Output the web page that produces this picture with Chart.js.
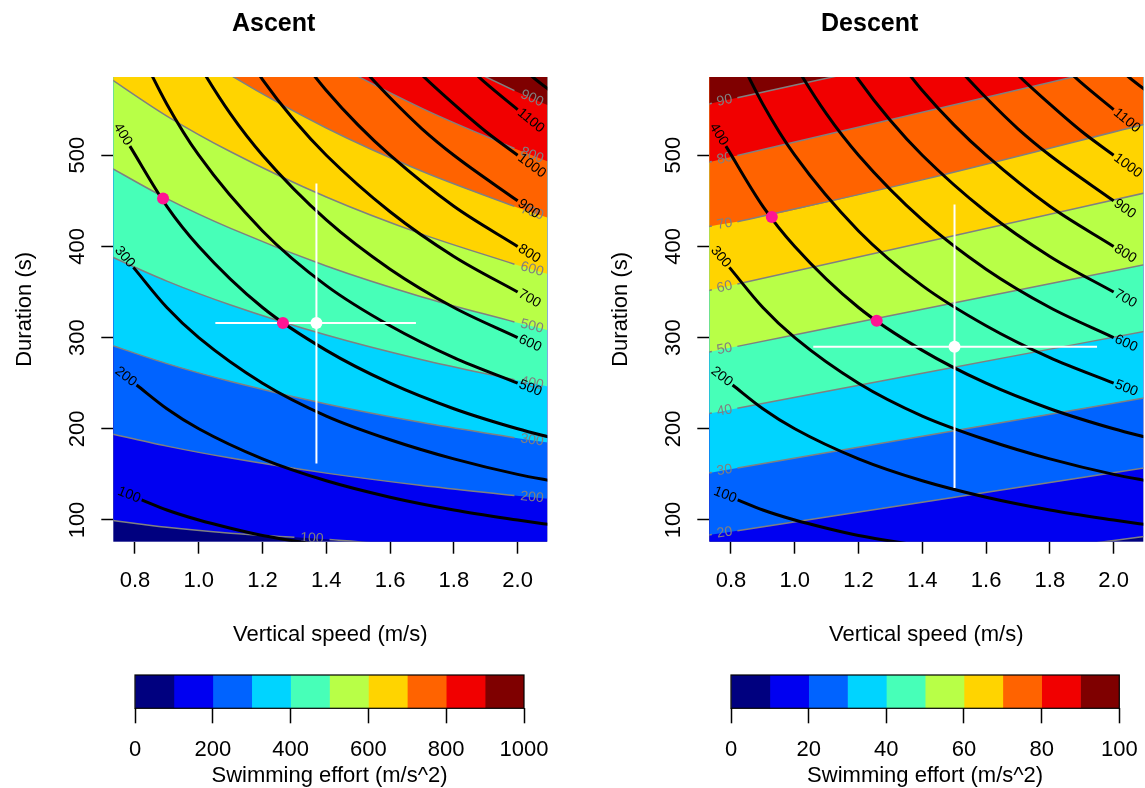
<!DOCTYPE html>
<html>
<head>
<meta charset="utf-8">
<script src="https://cdn.jsdelivr.net/npm/chart.js@4.4.1/dist/chart.umd.min.js"></script>
<style>
  html, body { margin: 0; padding: 0; background: #ffffff; width: 1145px; height: 788px; overflow: hidden; }
  canvas { position: absolute; }
</style>
</head>
<body>
<canvas id="ascent" width="660" height="660" style="left:0px;top:0px"></canvas>
<canvas id="descent" width="660" height="660" style="left:596px;top:0px"></canvas>
<canvas id="cbAscent" width="660" height="150" style="left:0px;top:640px"></canvas>
<canvas id="cbDescent" width="660" height="150" style="left:596px;top:640px"></canvas>
<script>
// ---------------- data ----------------
const speedLimits = [0.732, 2.093];
const durationLimits = [76.2, 585.8];
const speedTicks = [0.8, 1.0, 1.2, 1.4, 1.6, 1.8, 2.0];
const durationTicks = [100, 200, 300, 400, 500];

// jet palette, 10 levels
const effortColors = ['#00007F', '#0000F1', '#0063FF', '#00D4FF', '#47FFB8',
                      '#B8FF47', '#FFD400', '#FF6300', '#F10000', '#7F0000'];

// Ascent: filled-contour boundaries (speed, duration)
const ascentLevels = [100, 200, 300, 400, 500, 600, 700, 800, 900];
const ascentBounds = [
  [[0.70,101],[0.9,92],[1.1,85.5],[1.30,81],[1.41,78.5],[1.7,71],[2.12,63]],
  [[0.70,196.5],[0.9,181],[1.1,167.9],[1.4,151.4],[1.7,137.8],[1.99,126.8],[2.10,123.1]],
  [[0.70,294.7],[0.9,271.5],[1.1,251.9],[1.4,227.1],[1.7,206.8],[1.99,190.3],[2.10,184.7]],
  [[0.70,392.9],[0.9,362],[1.1,335.8],[1.4,302.8],[1.7,275.7],[1.99,253.7],[2.10,246.2]],
  [[0.70,491.2],[0.9,452.5],[1.1,419.8],[1.4,378.5],[1.7,344.6],[1.99,317.1],[2.10,307.8]],
  [[0.70,589.4],[0.9,543],[1.1,503.8],[1.4,454.2],[1.7,413.5],[1.99,380.5],[2.10,369.4]],
  [[0.70,687.6],[0.9,633.5],[1.1,587.7],[1.4,529.9],[1.7,482.4],[1.99,443.9],[2.10,430.9]],
  [[0.70,785.8],[0.9,724],[1.1,671.7],[1.4,605.6],[1.7,551.4],[1.99,507.4],[2.10,492.5]],
  [[0.70,884.1],[0.9,814.5],[1.1,755.6],[1.4,681.3],[1.7,620.3],[1.99,570.8],[2.10,554]]
];
const ascentGaps = [3, 5, 5, 5, 5, 5, 5, 5, 5];

// Descent: filled-contour boundaries
const descentLevels = [10, 20, 30, 40, 50, 60, 70, 80, 90];
const descentBounds = [
  [[0.70,18],[0.74,19.8],[0.82,23.5],[1.4,50],[2.12,83]],
  [[0.70,81.8],[0.74,84],[0.82,88.3],[1.4,119.5],[2.12,158.4]],
  [[0.70,149.8],[0.74,152.2],[0.82,157],[1.4,191.9],[2.12,235.2]],
  [[0.70,214.7],[0.74,217.3],[0.82,222.6],[1.4,260.9],[2.12,308.4]],
  [[0.70,282],[0.74,284.8],[0.82,290.4],[1.4,331.1],[2.12,381.7]],
  [[0.70,349.3],[0.74,352.4],[0.82,358.7],[1.4,404],[2.12,460.4]],
  [[0.70,419.5],[0.74,422.5],[0.82,427],[1.4,473],[2.12,536]],
  [[0.70,489.9],[0.74,493.2],[0.82,499.7],[1.4,547.2],[2.12,606]],
  [[0.70,554],[0.74,557],[0.82,563.1],[1.4,607.2],[2.12,662]]
];
const descentGaps = [1, 1, 1, 1, 1, 1, 1, 1, 1];

// black depth contours (same in both panels)
const depthLevels = [100, 200, 300, 400, 500, 600, 700, 800, 900, 1000, 1100, 1200];
const depthLines = [
  [[0.821,122],[0.9,111],[1.0,100],[1.1,91],[1.2,83],[1.3,77],[1.4,71.4]],
  [[0.805,248],[0.9,222],[1.0,200],[1.2,167],[1.4,143],[1.6,125],[1.8,111],[2.0,100],[2.12,94]],
  [[0.795,377],[0.9,333],[1.0,300],[1.2,250],[1.4,214],[1.6,188],[1.8,167],[2.0,150],[2.12,142]],
  [[0.784,510],[0.9,444],[1.0,400],[1.2,333],[1.4,286],[1.6,250],[1.8,222],[2.0,200],[2.12,189]],
  [[0.8,625],[0.9,556],[1.0,500],[1.2,417],[1.4,357],[1.6,313],[1.8,278],[2.0,250]],
  [[0.95,632],[1.0,600],[1.1,545],[1.2,500],[1.4,429],[1.6,375],[1.8,333],[2.0,300]],
  [[1.1,636],[1.2,583],[1.3,538],[1.4,500],[1.6,438],[1.8,389],[2.0,350]],
  [[1.3,615],[1.4,571],[1.5,533],[1.6,500],[1.8,444],[2.0,400]],
  [[1.5,600],[1.6,563],[1.7,529],[1.8,500],[2.0,450]],
  [[1.65,606],[1.7,588],[1.8,556],[1.9,526],[2.0,500]],
  [[1.85,595],[1.9,579],[2.0,550]],
  [[2.0,600],[2.05,585],[2.12,566]]
];

// observed means with ranges, and highlighted points
const ascentMean = [1.369, 316];
const ascentSpeedRange = [1.052, 1.681];
const ascentDurationRange = [162, 469];
const ascentMarks = [[0.888, 452.5], [1.264, 316]];
const descentMean = [1.501, 290];
const descentSpeedRange = [1.058, 1.948];
const descentDurationRange = [135, 446];
const descentMarks = [[0.928, 432.4], [1.257, 318.4]];

// colour bars
const ascentBreaks = [0, 100, 200, 300, 400, 500, 600, 700, 800, 900, 1000];
const ascentBarTicks = [0, 200, 400, 600, 800, 1000];
const descentBreaks = [0, 10, 20, 30, 40, 50, 60, 70, 80, 90, 100];
const descentBarTicks = [0, 20, 40, 60, 80, 100];

// ---------------- rendering ----------------
const FONT = '"Liberation Sans", Arial, Helvetica, sans-serif';
const GRAY = '#808080';
Chart.defaults.font.family = FONT;
Chart.defaults.color = '#000';
Chart.defaults.animation = false;

function pts(a) { return a.map(p => ({ x: p[0], y: p[1] })); }
function ptsWithGap(a, gap) {
  const out = [];
  a.forEach((p, i) => {
    out.push({ x: p[0], y: p[1] });
    if (i === gap) out.push({ x: (p[0] + a[i + 1][0]) / 2, y: null });
  });
  return out;
}

const plotBg = {
  id: 'plotBg',
  beforeDraw(chart, args, opts) {
    if (!opts || !opts.color) return;
    const a = chart.chartArea, ctx = chart.ctx;
    ctx.save();
    ctx.fillStyle = opts.color;
    ctx.fillRect(a.left, a.top, a.right - a.left, a.bottom - a.top);
    ctx.restore();
  }
};

const contourLabels = {
  id: 'contourLabels',
  afterDatasetDraw(chart, args) {
    const ds = chart.data.datasets[args.index];
    const lab = ds.contourLabel;
    if (!lab) return;
    const p = args.meta.data;
    if (!p || p.length < 2) return;
    const ctx = chart.ctx, a = chart.chartArea;
    ctx.save();
    ctx.beginPath();
    ctx.rect(a.left, a.top, a.right - a.left, a.bottom - a.top);
    ctx.clip();
    ctx.font = '14px ' + FONT;
    const w = ctx.measureText(lab.text).width;
    let p0, p1, cx, cy;
    if (lab.where === 'start') { p0 = p[0]; p1 = p[1]; }
    else if (lab.where === 'end') { p0 = p[p.length - 2]; p1 = p[p.length - 1]; }
    else { p0 = p[lab.gap]; p1 = p[lab.gap + 2]; }
    const dx = p1.x - p0.x, dy = p1.y - p0.y;
    const len = Math.hypot(dx, dy) || 1;
    const ux = dx / len, uy = dy / len;
    if (lab.where === 'start') { cx = p0.x - ux * (w / 2 + 2); cy = p0.y - uy * (w / 2 + 2); }
    else if (lab.where === 'end') { cx = p1.x + ux * (w / 2 + 2); cy = p1.y + uy * (w / 2 + 2); }
    else { cx = (p0.x + p1.x) / 2; cy = (p0.y + p1.y) / 2; }
    ctx.translate(cx, cy);
    ctx.rotate(Math.atan2(dy, dx));
    ctx.fillStyle = lab.color;
    ctx.textAlign = 'center';
    ctx.textBaseline = 'middle';
    ctx.fillText(lab.text, 0, 0);
    ctx.restore();
  }
};

const yRotLabels = {
  id: 'yRotLabels',
  afterDraw(chart) {
    const ys = chart.scales.y, ctx = chart.ctx;
    ctx.save();
    ctx.font = '22px ' + FONT;
    ctx.fillStyle = '#000';
    ctx.textAlign = 'center';
    ctx.textBaseline = 'middle';
    ys.ticks.forEach(t => {
      const py = ys.getPixelForValue(t.value);
      ctx.save();
      ctx.translate(chart.chartArea.left - 35, py);
      ctx.rotate(-Math.PI / 2);
      ctx.fillText(String(t.value), 0, 0);
      ctx.restore();
    });
    ctx.restore();
  }
};

const boxPlugin = {
  id: 'cbBox',
  afterDatasetsDraw(chart) {
    const a = chart.chartArea, ctx = chart.ctx;
    ctx.save();
    ctx.strokeStyle = '#000';
    ctx.lineWidth = 1.2;
    ctx.strokeRect(a.left, a.top, a.right - a.left, a.bottom - a.top);
    ctx.restore();
  }
};

function makePanel(id, title, bounds, levels, gaps, mean, sRange, dRange, marks) {
  const datasets = [];
  bounds.forEach((b, i) => {
    const gap = gaps[i];
    // colour band above this boundary
    datasets.push({
      data: pts(b),
      borderColor: 'rgba(0,0,0,0)',
      borderWidth: 0,
      backgroundColor: effortColors[i + 1],
      fill: 'end',
      pointRadius: 0,
      cubicInterpolationMode: 'monotone',
      order: 200 - 2 * i,
      clip: 0
    });
    // grey boundary line, broken where its label sits
    datasets.push({
      data: ptsWithGap(b, gap),
      borderColor: GRAY,
      borderWidth: 1.5,
      fill: false,
      spanGaps: false,
      pointRadius: 0,
      cubicInterpolationMode: 'monotone',
      order: 199 - 2 * i,
      clip: 0,
      contourLabel: { text: String(levels[i]), where: 'gap', gap: gap, color: GRAY }
    });
  });
  depthLines.forEach((d, i) => {
    const lvl = depthLevels[i];
    let lab = null;
    if (lvl <= 400) lab = { text: String(lvl), where: 'start', color: '#000' };
    else if (lvl <= 1100) lab = { text: String(lvl), where: 'end', color: '#000' };
    datasets.push({
      data: pts(d),
      borderColor: '#000',
      borderWidth: 3,
      fill: false,
      pointRadius: 0,
      cubicInterpolationMode: 'monotone',
      order: 10,
      clip: 0,
      contourLabel: lab
    });
  });
  datasets.push({
    data: [{ x: sRange[0], y: mean[1] }, { x: sRange[1], y: mean[1] }],
    borderColor: '#ffffff', borderWidth: 2, pointRadius: 0, fill: false, order: 5, clip: 0
  });
  datasets.push({
    data: [{ x: mean[0], y: dRange[0] }, { x: mean[0], y: dRange[1] }],
    borderColor: '#ffffff', borderWidth: 2, pointRadius: 0, fill: false, order: 5, clip: 0
  });
  datasets.push({
    data: [{ x: mean[0], y: mean[1] }],
    showLine: false, pointRadius: 6, pointBackgroundColor: '#ffffff', pointBorderWidth: 0,
    borderColor: 'rgba(0,0,0,0)', fill: false, order: 4
  });
  datasets.push({
    data: pts(marks),
    showLine: false, pointRadius: 6, pointBackgroundColor: '#FF1493', pointBorderWidth: 0,
    borderColor: 'rgba(0,0,0,0)', fill: false, order: 3
  });

  new Chart(document.getElementById(id), {
    type: 'line',
    data: { datasets: datasets },
    options: {
      responsive: false,
      animation: false,
      events: [],
      layout: { padding: { left: 0, right: 112.7, top: 0, bottom: 0 } },
      plugins: {
        legend: { display: false },
        tooltip: { enabled: false },
        plotBg: { color: effortColors[0] },
        title: {
          display: true, text: title, color: '#000',
          font: { size: 25, weight: 'bold' },
          padding: { top: 9, bottom: 38 }
        }
      },
      scales: {
        x: {
          type: 'linear', min: speedLimits[0], max: speedLimits[1],
          afterBuildTicks: s => { s.ticks = speedTicks.map(v => ({ value: v })); },
          afterFit: s => { s.height = 118.3; },
          ticks: { font: { size: 22 }, padding: 14, color: '#000', callback: v => Number(v).toFixed(1) },
          grid: { display: true, drawOnChartArea: false, drawTicks: true, tickLength: 12, tickWidth: 1.5, tickColor: '#000' },
          border: { display: false },
          title: { display: true, text: 'Vertical speed (m/s)', color: '#000', font: { size: 22 }, padding: { top: 0, bottom: 11.8 } }
        },
        y: {
          type: 'linear', min: durationLimits[0], max: durationLimits[1],
          afterBuildTicks: s => { s.ticks = durationTicks.map(v => ({ value: v })); },
          afterFit: s => { s.width = 113.3; },
          ticks: { display: false },
          grid: { display: true, drawOnChartArea: false, drawTicks: true, tickLength: 12, tickWidth: 1.5, tickColor: '#000' },
          border: { display: false },
          title: { display: true, text: 'Duration (s)', color: '#000', font: { size: 22 }, padding: { top: 12, bottom: 0 } }
        }
      }
    },
    plugins: [plotBg, contourLabels, yRotLabels]
  });
}

function makeColorbar(id, breaks, ticks, padRight) {
  new Chart(document.getElementById(id), {
    type: 'bar',
    data: {
      labels: ['effort'],
      datasets: effortColors.map((c, i) => ({
        data: [[breaks[i], breaks[i + 1]]],
        backgroundColor: c, borderWidth: 0,
        barPercentage: 1, categoryPercentage: 1, grouped: false
      }))
    },
    options: {
      indexAxis: 'y',
      responsive: false,
      animation: false,
      events: [],
      layout: { padding: { left: 135, right: padRight, top: 35, bottom: 0 } },
      plugins: { legend: { display: false }, tooltip: { enabled: false } },
      scales: {
        x: {
          type: 'linear', min: breaks[0], max: breaks[breaks.length - 1],
          afterBuildTicks: s => { s.ticks = ticks.map(v => ({ value: v })); },
          afterFit: s => { s.height = 81.7; },
          ticks: { font: { size: 22 }, padding: 13.5, color: '#000', callback: v => String(v) },
          grid: { display: true, drawOnChartArea: false, drawTicks: true, tickLength: 15, tickWidth: 1.5, tickColor: '#000' },
          border: { display: false },
          title: { display: true, text: 'Swimming effort (m/s^2)', color: '#000', font: { size: 22 }, padding: { top: 0, bottom: 0.8 } }
        },
        y: { display: false }
      }
    },
    plugins: [boxPlugin]
  });
}

makePanel('ascent', 'Ascent', ascentBounds, ascentLevels, ascentGaps,
          ascentMean, ascentSpeedRange, ascentDurationRange, ascentMarks);
makePanel('descent', 'Descent', descentBounds, descentLevels, descentGaps,
          descentMean, descentSpeedRange, descentDurationRange, descentMarks);
makeColorbar('cbAscent', ascentBreaks, ascentBarTicks, 136);
makeColorbar('cbDescent', descentBreaks, descentBarTicks, 136.7);
</script>
</body>
</html>
